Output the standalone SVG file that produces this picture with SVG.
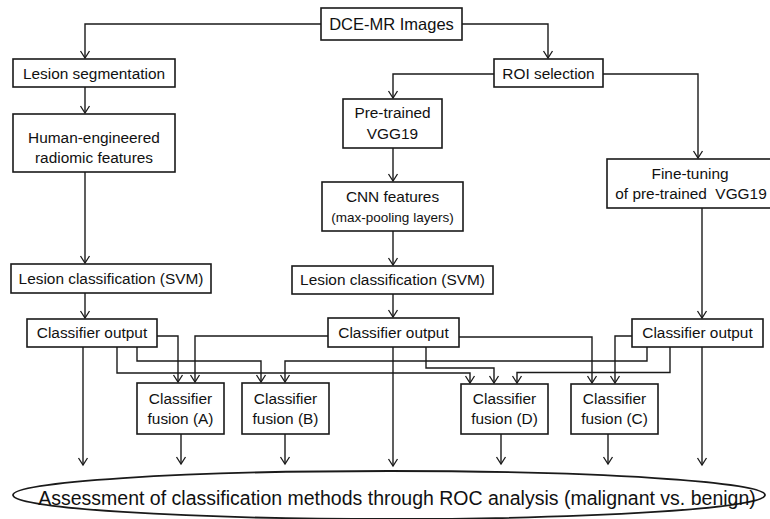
<svg xmlns="http://www.w3.org/2000/svg" width="770" height="519" viewBox="0 0 770 519">
<defs>
<marker id="ah" markerUnits="userSpaceOnUse" markerWidth="12" markerHeight="12" viewBox="-8 -6 10 12" refX="0" refY="0" orient="auto">
<path d="M-7,-4.5 L0,0 L-7,4.5" fill="none" stroke="#1a1a1a" stroke-width="1.3"/>
</marker>
<style>
.box{fill:#fff;stroke:#1a1a1a;stroke-width:1.6}
.t{font-family:"Liberation Sans",Arial,sans-serif;font-size:15.4px;fill:#111;text-anchor:middle}
.s{font-size:13.5px}
.c{fill:none;stroke:#1a1a1a;stroke-width:1.4;marker-end:url(#ah)}
.n{fill:none;stroke:#1a1a1a;stroke-width:1.4}
</style>
</defs>
<rect width="770" height="519" fill="#fff"/>
<g id="connectors">
<path class="c" d="M321,24 H85 V58"/>
<path class="c" d="M462,24 H548 V58"/>
<path class="c" d="M85,87 V113"/>
<path class="c" d="M85,172 V263"/>
<path class="c" d="M494,74 H393 V98"/>
<path class="c" d="M603,74 H698 V158"/>
<path class="c" d="M393,148 V181"/>
<path class="c" d="M393,231 V265"/>
<path class="c" d="M85,293 V318"/>
<path class="c" d="M393,294 V317"/>
<path class="c" d="M702,208 V318"/>
<path class="c" d="M83,347 V465"/>
<path class="c" d="M393,347 V466"/>
<path class="c" d="M702,347 V465"/>
<path class="c" d="M157,336 H178 V382"/>
<path class="c" d="M328,336 H195 V382"/>
<path class="c" d="M137,347 V361 H261 V382"/>
<path class="c" d="M647,347 V361 H285 V382"/>
<path class="c" d="M117,347 V373 H470 V383"/>
<path class="c" d="M426,347 V368 H494 V383"/>
<path class="c" d="M670,347 V372.5 H517 V383"/>
<path class="c" d="M459,337 H592 V383"/>
<path class="c" d="M632,336 H615 V383"/>
<path class="c" d="M181,434 V464"/>
<path class="c" d="M285,434 V464"/>
<path class="c" d="M501,434 V464"/>
<path class="c" d="M608,434 V464"/>
</g>
<g id="dce">
<rect class="box" x="321" y="8" width="141" height="32"/>
<text class="t" x="391.5" y="30" style="font-size:16.5px">DCE-MR Images</text>
</g>
<g id="lesion-seg">
<rect class="box" x="13" y="59" width="162" height="28"/>
<text class="t" x="94" y="79">Lesion segmentation</text>
</g>
<g id="radiomic">
<rect class="box" x="13" y="114" width="162" height="58"/>
<text class="t" x="94" y="143">Human-engineered</text>
<text class="t" x="94" y="163">radiomic features</text>
</g>
<g id="roi">
<rect class="box" x="494" y="59" width="109" height="28"/>
<text class="t" x="548.5" y="79">ROI selection</text>
</g>
<g id="pretrained">
<rect class="box" x="343" y="99" width="99" height="49"/>
<text class="t" x="392.5" y="118">Pre-trained</text>
<text class="t" x="392.5" y="139">VGG19</text>
</g>
<g id="cnn">
<rect class="box" x="322" y="182" width="141" height="49"/>
<text class="t" x="392.5" y="202">CNN features</text>
<text class="t s" x="392.5" y="222">(max-pooling layers)</text>
</g>
<g id="finetune">
<rect class="box" x="607" y="159" width="165" height="49"/>
<text class="t" x="690" y="179">Fine-tuning</text>
<text class="t" x="691" y="199" xml:space="preserve">of pre-trained  VGG19</text>
</g>
<g id="svm-left">
<rect class="box" x="11" y="264" width="200" height="29"/>
<text class="t" x="111" y="284">Lesion classification (SVM)</text>
</g>
<g id="svm-mid">
<rect class="box" x="292" y="266" width="201" height="28"/>
<text class="t" x="392.5" y="285">Lesion classification (SVM)</text>
</g>
<g id="out-left">
<rect class="box" x="27" y="319" width="130" height="28"/>
<text class="t" x="92" y="338">Classifier output</text>
</g>
<g id="out-mid">
<rect class="box" x="328" y="318" width="131" height="29"/>
<text class="t" x="393.5" y="338">Classifier output</text>
</g>
<g id="out-right">
<rect class="box" x="632" y="319" width="131" height="28"/>
<text class="t" x="697.5" y="338">Classifier output</text>
</g>
<g id="fusion-a">
<rect class="box" x="137" y="383" width="87" height="51"/>
<text class="t" x="180.5" y="404">Classifier</text>
<text class="t" x="180.5" y="424">fusion (A)</text>
</g>
<g id="fusion-b">
<rect class="box" x="242" y="383" width="87" height="51"/>
<text class="t" x="285.5" y="404">Classifier</text>
<text class="t" x="285.5" y="424">fusion (B)</text>
</g>
<g id="fusion-d">
<rect class="box" x="461" y="384" width="87" height="50"/>
<text class="t" x="504.5" y="404">Classifier</text>
<text class="t" x="504.5" y="424">fusion (D)</text>
</g>
<g id="fusion-c">
<rect class="box" x="571" y="384" width="87" height="50"/>
<text class="t" x="614.5" y="404">Classifier</text>
<text class="t" x="614.5" y="424">fusion (C)</text>
</g>
<g id="assessment">
<ellipse cx="389" cy="495" rx="376" ry="24" fill="#fff" stroke="#1a1a1a" stroke-width="1.8"/>
<text class="t" x="397" y="505" style="font-size:19.5px">Assessment of classification methods through ROC analysis (malignant vs. benign)</text>
</g>
</svg>
